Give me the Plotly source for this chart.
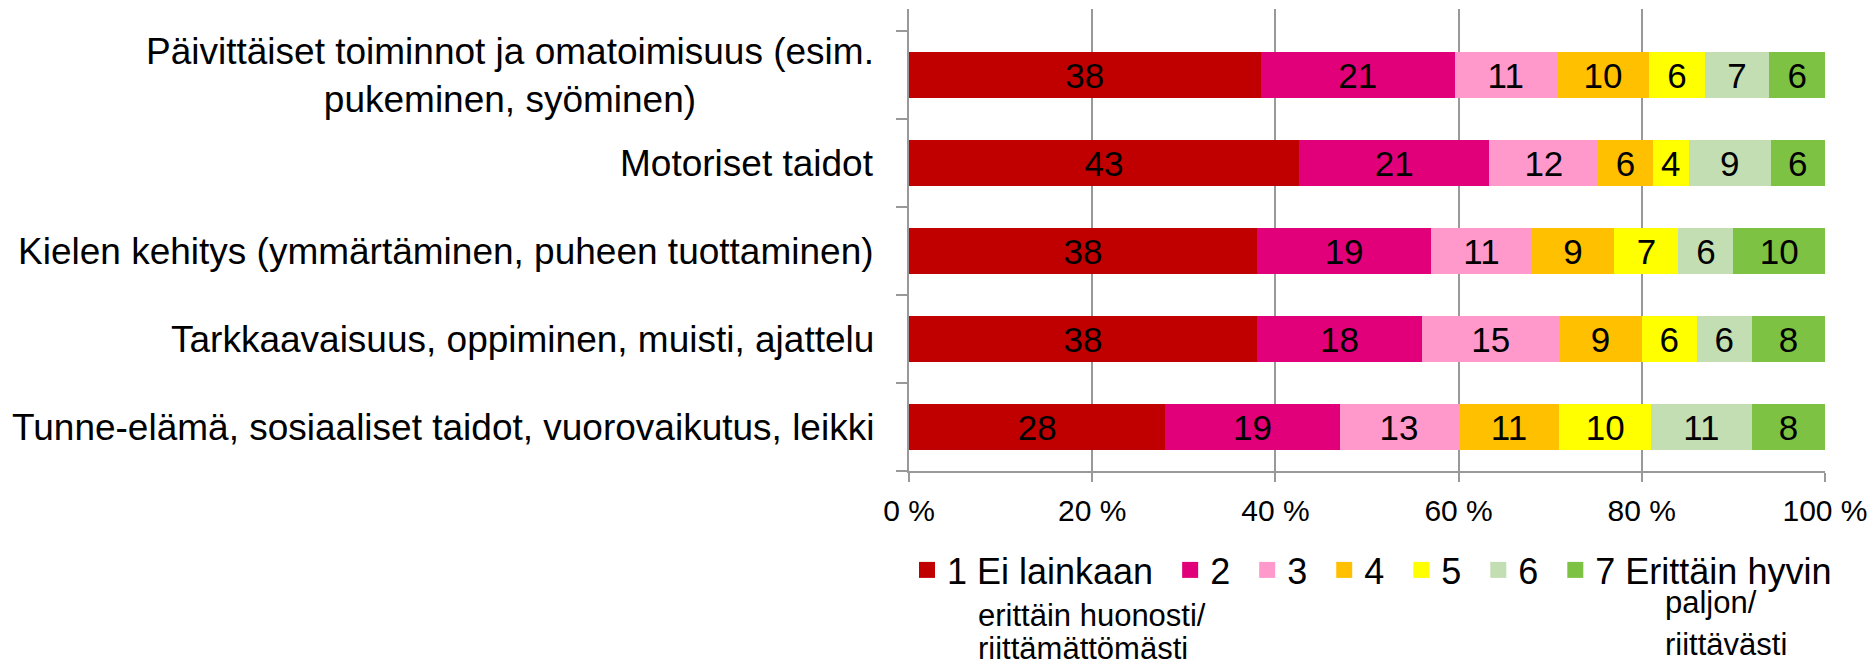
import plotly.graph_objects as go

categories = [
    "Päivittäiset toiminnot ja omatoimisuus",
    "Motoriset taidot",
    "Kielen kehitys",
    "Tarkkaavaisuus",
    "Tunne-elämä",
]
category_labels = [
    "Päivittäiset toiminnot ja omatoimisuus (esim.<br>pukeminen, syöminen)",
    "Motoriset taidot",
    "Kielen kehitys (ymmärtäminen, puheen tuottaminen)",
    "Tarkkaavaisuus, oppiminen, muisti, ajattelu",
    "Tunne-elämä, sosiaaliset taidot, vuorovaikutus, leikki",
]
series_names = ["1 Ei lainkaan", "2", "3", "4", "5", "6", "7 Erittäin hyvin"]
values = [
    [38, 43, 38, 38, 28],
    [21, 21, 19, 18, 19],
    [11, 12, 11, 15, 13],
    [10, 6, 9, 9, 11],
    [6, 4, 7, 6, 10],
    [7, 9, 6, 6, 11],
    [6, 6, 10, 8, 8],
]
colors = ["#C00000", "#E2007A", "#FF99CC", "#FFC000", "#FFFF00", "#C3DEB3", "#7DC242"]
x_ticks = [0, 20, 40, 60, 80, 100]
x_tick_labels = ["0 %", "20 %", "40 %", "60 %", "80 %", "100 %"]
low_note = ["erittäin huonosti/", "riittämättömästi"]
high_note = ["paljon/", "riittävästi"]

FONT = "Liberation Sans, Arial, sans-serif"
GRID = "#999999"
OFF = 8                      # default page body margin of the html page
PAGE_W, PAGE_H = 1876, 663
W, H = PAGE_W - OFF, PAGE_H - OFF
# plot area in page pixels
PL, PR, PT, PB = 909 - OFF, 1825 - OFF, 9 - OFF, 471 - OFF
LEGEND_PAD = "\u2004"        # spacing after a legend entry


def px_x(px):
    return (px - OFF - PL) / (PR - PL)


def px_y(py):
    return (PB - (py - OFF)) / (PB - PT)


fig = go.Figure()
for name, vals, col in zip(series_names, values, colors):
    fig.add_trace(go.Bar(
        y=categories, x=vals, name=name, orientation="h",
        marker=dict(color=col, line=dict(width=0)),
        text=[str(v) for v in vals], texttemplate="%{text}",
        textposition="inside", insidetextanchor="middle", textangle=0,
        constraintext="none", showlegend=False,
        insidetextfont=dict(family=FONT, size=35, color="black"),
    ))
# legend entries with larger square swatches
for i, (name, col) in enumerate(zip(series_names, colors)):
    fig.add_trace(go.Scatter(
        x=[None], y=[None], mode="markers",
        name=name + (LEGEND_PAD if i < len(series_names) - 1 else ""),
        marker=dict(symbol="square", size=16, color=col),
        showlegend=True,
    ))

fig.update_layout(
    barmode="stack", barnorm="percent", bargap=0.48,
    width=W, height=H,
    margin=dict(l=PL, r=W - PR, t=PT, b=H - PB, autoexpand=False),
    plot_bgcolor="white", paper_bgcolor="white",
    font=dict(family=FONT, size=35, color="black"),
    legend=dict(orientation="h", x=px_x(907), xanchor="left",
                y=px_y(570), yanchor="middle",
                font=dict(size=36), itemwidth=30, traceorder="normal",
                bgcolor="rgba(0,0,0,0)"),
    showlegend=True,
)
fig.update_xaxes(
    range=[0, 100], tickvals=x_ticks, ticktext=x_tick_labels,
    showgrid=True, gridcolor=GRID, gridwidth=1.5,
    showline=True, linecolor=GRID, linewidth=2,
    ticks="outside", ticklen=9, tickwidth=1.5, tickcolor=GRID,
    zeroline=False, tickfont=dict(size=30), ticklabelstandoff=3,
)
fig.update_yaxes(
    type="category", categoryorder="array", categoryarray=categories[::-1],
    range=[-0.5, 4.75], showticklabels=False,
    showline=True, linecolor=GRID, linewidth=2,
    ticks="outside", ticklen=11, tickwidth=2, tickcolor=GRID, tickson="boundaries",
    showgrid=False, zeroline=False,
)

for cat, lab in zip(categories, category_labels):
    fig.add_annotation(
        x=0, xref="paper", y=cat, yref="y", text=lab, showarrow=False,
        xanchor="right", yanchor="middle", align="center", xshift=-33,
        font=dict(size=37),
    )

for txt, base in zip(low_note, [625, 658]):
    fig.add_annotation(x=px_x(976), y=px_y(base - 10), xref="paper", yref="paper",
                       text=txt, showarrow=False, xanchor="left", yanchor="middle",
                       align="left", font=dict(size=31))
for txt, base in zip(high_note, [613, 654]):
    fig.add_annotation(x=px_x(1663), y=px_y(base - 10), xref="paper", yref="paper",
                       text=txt, showarrow=False, xanchor="left", yanchor="middle",
                       align="left", font=dict(size=31))

fig.write_html("out.html")
